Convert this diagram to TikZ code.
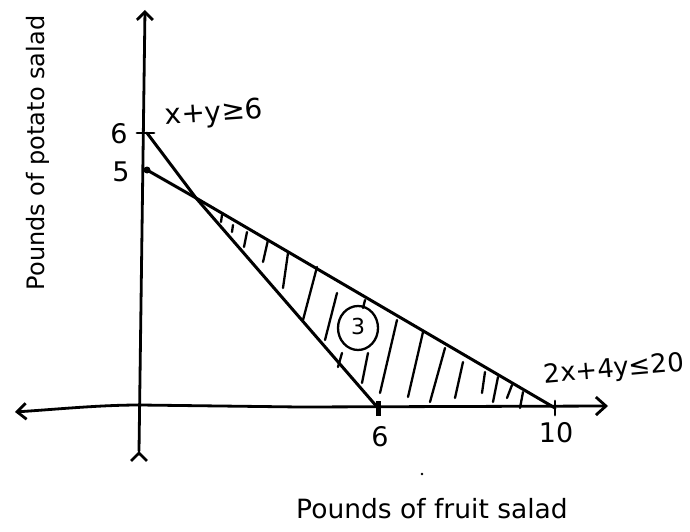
\documentclass[tikz,border=0pt]{standalone}
\usepackage{fontspec}
\setmainfont{DejaVu Sans}
\usetikzlibrary{arrows.meta}
\begin{document}
\begin{tikzpicture}[x=1pt,y=-1pt,
  stroke/.style={line width=3pt, line cap=round, line join=round},
  axis/.style={stroke, line width=2.8pt},
  hatch/.style={line width=2.3pt, line cap=round},
  num/.style={inner sep=0pt, font=\fontsize{27}{30}\selectfont},
  eq/.style={inner sep=0pt, font=\fontsize{28}{32}\selectfont},
  axlbl/.style={inner sep=0pt, font=\fontsize{26.5}{30}\selectfont}]
\useasboundingbox (0,0) rectangle (690,532);
% axes end points
\coordinate (ytop) at (145,10);
\coordinate (ybot) at (139,451);
\coordinate (xleft) at (15,412);
\coordinate (xmid) at (140,405);
\coordinate (xright) at (608,406);
% key points
\coordinate (y6) at (147,133);
\coordinate (y5) at (147,170);
\coordinate (x6) at (378,408);
\coordinate (x10) at (555,408);
\coordinate (P) at (196,198);
% axes
\draw[axis, -{Straight Barb[length=8pt,width=16pt,line width=2.8pt]}] (ybot) -- (ytop);
\draw[axis, {Straight Barb[length=8pt,width=16pt,line width=2.8pt]}-] (ybot) -- ++(0,1);
\draw[axis, {Straight Barb[length=9pt,width=16pt,line width=2.8pt]}-{Straight Barb[length=10pt,width=18pt,line width=2.8pt]}]
  (xleft) .. controls (60,409) and (100,405) .. (xmid) -- (300,407) -- (xright);
% ticks
\draw[axis] (137,133) -- (154,133);
\fill (y5) circle (3.5pt);
\draw[line width=5pt] (378,401) -- (378,416);
\draw[axis] (555,401) -- (555,415);
% constraint lines
\draw[stroke] (y6) -- (P) -- (x6);
\draw[stroke] (y5) -- (P) -- (x10);
% hatching
\foreach \a/\b in {
  {(222,215)}/{(221,222)}, {(233,225)}/{(232,232)}, {(247,232)}/{(244,247)},
  {(268,240)}/{(263,262)}, {(288,253)}/{(283,288)}, {(317,267)}/{(303,320)},
  {(337,293)}/{(325,340)}, {(365,300)}/{(363,308)}, {(342,353)}/{(338,367)},
  {(368,353)}/{(362,383)}, {(397,320)}/{(380,393)}, {(423,332)}/{(408,397)},
  {(445,348)}/{(430,402)}, {(463,362)}/{(455,398)}, {(485,372)}/{(482,393)},
  {(498,377)}/{(493,402)}, {(512,385)}/{(507,398)}, {(523,392)}/{(520,408)}}
  \draw[hatch] \a -- \b;
% circled 3
\draw[line width=2.3pt] (358,328) ellipse (20pt and 22pt);
\node[num, font=\fontsize{22}{26}\selectfont] (three) at (358,326) {3};
% labels
\node[num] (l6) at (119,134) {6};
\node[num] (l5) at (121,172) {5};
\node[num] (b6) at (380,437) {6};
\node[num] (b10) at (556,433) {10};
\node[eq, rotate=4] (eq1) at (214,114) {x+y≥6};
\node[eq, rotate=5, font=\fontsize{26}{30}\selectfont] (eq2) at (614,370) {2x+4y≤20};
\node[axlbl] (xl) at (432,509) {Pounds of fruit salad};
\node[axlbl, rotate=90, font=\fontsize{24}{28}\selectfont] (yl) at (38,153) {Pounds of potato salad};
\fill (422,474) circle (1.3pt);
\end{tikzpicture}
\end{document}
